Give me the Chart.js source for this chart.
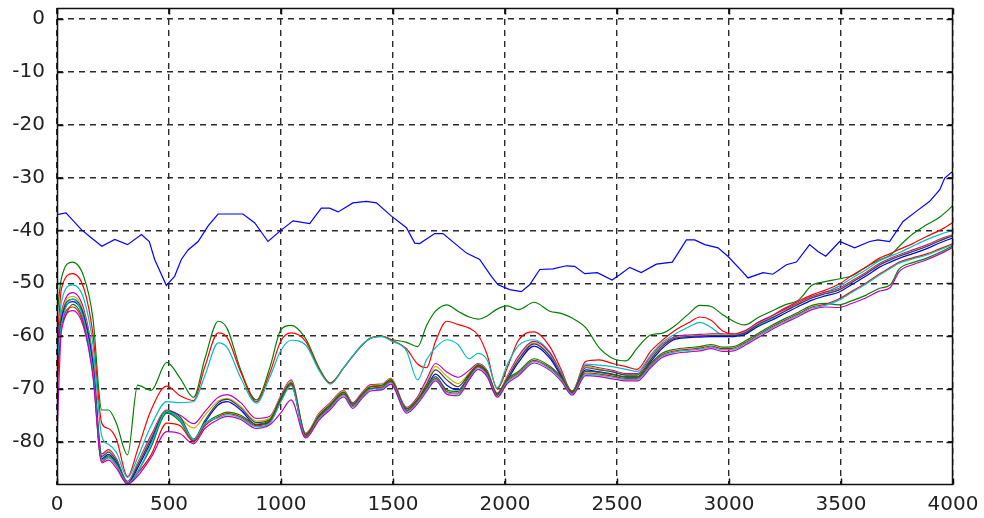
<!DOCTYPE html>
<html>
<head>
<meta charset="utf-8">
<title>Spectra</title>
<script src="https://cdn.jsdelivr.net/npm/chart.js@4.4.1/dist/chart.umd.min.js"></script>
<style>
  html, body { margin: 0; padding: 0; background: #fff; }
</style>
</head>
<body>
<canvas id="specChart" width="984" height="518"></canvas>
<script>
// axis ticks
const xTicks = [0, 500, 1000, 1500, 2000, 2500, 3000, 3500, 4000];
const yTicks = [-80, -70, -60, -50, -40, -30, -20, -10, 0];

// reference trace (own frequency points)
const topFreq = [0, 40, 110, 150, 200, 258, 315, 377, 412, 436,
  488, 525, 555, 585, 630, 674, 719, 830, 883, 942,
  1002, 1054, 1128, 1180, 1217, 1255, 1321, 1381, 1426, 1493,
  1560, 1597, 1619, 1686, 1723, 1828, 1887, 1939, 1969, 2021,
  2073, 2110, 2155, 2214, 2274, 2311, 2356, 2412, 2478, 2512,
  2557, 2608, 2676, 2747, 2810, 2847, 2892, 2951, 2995, 3048,
  3085, 3152, 3196, 3256, 3301, 3360, 3397, 3432, 3494, 3561,
  3628, 3665, 3717, 3777, 3836, 3896, 3941, 3963, 3993, 4000];
const topLevel = [-37.0, -36.7, -39.9, -41.3, -43.0, -41.7, -42.7, -40.8, -42.1, -45.5,
  -50.4, -48.7, -45.5, -43.7, -42.1, -39.2, -36.9, -36.9, -38.6, -42.1,
  -39.9, -38.2, -38.7, -35.8, -35.8, -36.5, -34.8, -34.5, -34.8, -37.3,
  -39.5, -42.4, -42.5, -40.6, -40.6, -44.3, -45.5, -48.7, -50.3, -51.2,
  -51.6, -50.3, -47.4, -47.3, -46.7, -46.8, -48.2, -48.0, -49.4, -48.4,
  -47.0, -48.0, -46.4, -46.0, -41.8, -41.8, -42.7, -43.3, -44.9, -47.3,
  -49.0, -48.0, -48.3, -46.5, -46.0, -42.7, -44.0, -44.9, -42.1, -43.3,
  -42.1, -41.8, -42.1, -38.3, -36.4, -34.5, -32.3, -30.1, -29.0, -29.0];

// shared frequency points for the remaining traces
const freqGrid = [0, 20, 70, 120, 160,
  200, 230, 265, 315, 360,
  420, 490, 550, 610, 660,
  720, 760, 820, 890, 950,
  1000, 1045, 1110, 1170, 1220,
  1280, 1320, 1360, 1400, 1450,
  1490, 1560, 1610, 1650, 1690,
  1740, 1790, 1840, 1880, 1920,
  1965, 2010, 2060, 2130, 2200,
  2250, 2300, 2360, 2420, 2480,
  2540, 2590, 2650, 2700, 2760,
  2820, 2870, 2920, 2970, 3020,
  3070, 3130, 3190, 3250, 3310,
  3370, 3430, 3490, 3550, 3610,
  3670, 3720, 3760, 3820, 3880,
  3940, 4000];

const levelG1 = [-56, -49, -46, -48.8, -56.5,
  -74.0, -74.0, -76.5, -82.5, -69.3,
  -70.3, -65.0, -68.0, -71.6, -64.3,
  -57.2, -58.6, -66.4, -72.1, -66.0,
  -58.8, -58.0, -60.5, -66.0, -68.9,
  -66.0, -63.8, -61.8, -60.4, -60.0,
  -60.6, -61.2, -62.0, -58.0, -55.3,
  -54.1, -55.3, -56.4, -56.8, -56.2,
  -54.9, -54.3, -55.0, -53.6, -55.3,
  -55.7, -56.6, -58.4, -62.2, -64.2,
  -64.7, -62.3, -59.8, -59.5, -58.0,
  -55.8, -54.2, -54.4, -55.9, -57.2,
  -57.9, -56.5, -55.3, -54.1, -53.2,
  -50.4, -49.7, -49.2, -48.6, -47.0,
  -45.6, -44.7, -43.0, -40.7, -39.0,
  -37.5, -35.3];

const levelR1 = [-62, -51, -48.2, -51.0, -59.5,
  -76.5, -77.5, -79.5, -86.6, -81.5,
  -74.0, -69.5, -71.3, -72.2, -65.8,
  -59.4, -60.3, -66.8, -72.4, -67.0,
  -60.9, -59.4, -61.0, -66.3, -68.9,
  -66.0, -63.8, -61.8, -60.4, -60.0,
  -60.7, -62.4, -65.3, -66.0, -61.0,
  -57.2, -57.8, -58.5, -59.8, -63.5,
  -70.0, -66.0, -60.8, -59.2, -62.0,
  -66.3, -70.6, -64.8, -64.5, -65.2,
  -65.8, -66.3, -62.9, -60.9, -58.9,
  -57.5, -56.4, -57.0, -59.0, -59.6,
  -59.0, -57.5, -56.2, -54.7, -53.4,
  -52.2, -51.3, -50.2, -48.5, -47.0,
  -45.3, -44.4, -43.6, -42.5, -41.2,
  -40.0, -38.5];

const levelC1 = [-66, -53.5, -50.3, -53.0, -61.5,
  -79.0, -80.5, -82.0, -86.8, -83.0,
  -77.0, -72.4, -72.6, -72.4, -67.5,
  -61.3, -62.2, -67.9, -72.7, -67.8,
  -62.7, -60.8, -61.7, -66.5, -69.1,
  -66.0, -63.8, -61.8, -60.4, -60.1,
  -60.9, -62.8, -68.3, -64.5, -62.2,
  -60.7, -61.6, -64.3, -63.3, -64.5,
  -69.8, -65.4, -61.8, -60.7, -63.0,
  -66.8, -70.5, -65.3, -65.5, -65.8,
  -66.3, -66.7, -63.6, -61.3, -59.6,
  -58.3, -57.4, -58.4, -59.8, -60.0,
  -59.5, -58.0, -56.7, -55.2, -53.8,
  -52.6, -51.7, -50.6, -49.0, -47.5,
  -45.8, -44.9, -44.2, -43.0, -41.8,
  -40.8, -40.0];

const levelM1 = [-62, -55.5, -51.8, -55.0, -64.0,
  -82.3, -81.5, -83.2, -87.5, -84.0,
  -78.8, -74.0, -75.0, -76.6, -74.3,
  -71.6, -71.1, -72.6, -75.6, -75.2,
  -71.2, -68.3, -78.4, -74.6, -72.6,
  -70.3, -72.6, -70.8, -69.2, -69.1,
  -68.0, -73.5, -71.5, -68.2, -65.2,
  -66.8, -67.8, -66.5, -65.2, -66.5,
  -70.8, -67.6, -63.8, -61.0, -63.2,
  -67.0, -70.4, -65.6, -66.0, -66.5,
  -67.1, -67.1, -64.0, -61.6, -60.1,
  -59.8, -59.7, -59.6, -59.6, -59.7,
  -59.1, -57.4, -56.2, -54.9, -53.7,
  -52.5, -51.7, -51.0, -49.5, -48.0,
  -46.3, -45.3, -44.6, -43.7, -42.8,
  -41.7, -40.8];

const levelY1 = [-67, -56.0, -52.5, -55.6, -64.6,
  -82.6, -81.8, -83.5, -87.7, -84.2,
  -79.2, -74.1, -75.6, -77.4, -75.0,
  -72.3, -71.8, -73.3, -76.1, -75.5,
  -71.4, -68.6, -78.5, -74.8, -72.8,
  -70.4, -72.8, -71.0, -69.4, -69.2,
  -68.1, -73.7, -71.8, -68.8, -65.8,
  -67.6, -69.0, -67.0, -65.4, -66.7,
  -70.9, -67.8, -64.2, -61.3, -63.6,
  -67.2, -70.5, -65.8, -66.2, -66.7,
  -67.3, -67.3, -64.3, -61.8, -60.3,
  -60.0, -59.9, -59.8, -59.8, -59.8,
  -59.3, -57.7, -56.5, -55.2, -53.9,
  -52.7, -51.9, -51.2, -49.7, -48.2,
  -46.5, -45.5, -44.8, -43.9, -43.0,
  -41.9, -40.9];

const levelK1 = [-64, -56.5, -53.0, -56.0, -65.0,
  -82.8, -82.0, -83.6, -87.8, -84.5,
  -79.5, -74.2, -75.3, -79.5, -76.0,
  -72.6, -72.0, -73.6, -76.4, -75.8,
  -71.6, -68.8, -78.6, -75.0, -73.0,
  -70.6, -72.9, -71.1, -69.6, -69.4,
  -68.3, -73.8, -72.0, -69.2, -66.4,
  -68.3, -69.6, -67.2, -65.5, -66.8,
  -71.0, -68.0, -64.5, -61.5, -63.8,
  -67.3, -70.6, -66.0, -66.4, -66.8,
  -67.4, -67.4, -64.5, -62.0, -60.4,
  -60.1, -60.0, -59.9, -59.9, -59.9,
  -59.4, -57.8, -56.6, -55.3, -54.0,
  -52.8, -52.0, -51.3, -49.8, -48.3,
  -46.6, -45.6, -44.9, -44.0, -43.1,
  -42.0, -41.0];

const levelB2 = [-68, -57.0, -53.5, -56.5, -65.5,
  -83.2, -82.4, -84.0, -88.0, -85.0,
  -80.0, -74.5, -75.8, -79.8, -76.4,
  -73.0, -72.4, -74.0, -76.8, -76.2,
  -72.0, -69.2, -79.0, -75.4, -73.4,
  -71.0, -73.3, -71.5, -70.0, -69.8,
  -68.7, -74.2, -72.4, -69.7, -67.2,
  -69.3, -70.2, -67.6, -65.8, -67.2,
  -71.3, -68.4, -65.0, -61.9, -64.2,
  -67.6, -70.8, -66.4, -66.8, -67.2,
  -67.8, -67.8, -64.9, -62.4, -60.6,
  -60.3, -60.2, -60.1, -60.1, -60.1,
  -59.7, -58.2, -57.0, -55.7, -54.4,
  -53.2, -52.4, -51.7, -50.2, -48.7,
  -47.0, -46.0, -45.3, -44.4, -43.5,
  -42.4, -41.4];

const levelG2 = [-58, -57.5, -54.0, -57.5, -66.5,
  -83.5, -82.7, -84.2, -88.0, -85.7,
  -81.0, -74.6, -76.2, -79.8, -76.7,
  -75.0, -74.4, -75.0, -76.7, -76.0,
  -71.9, -68.9, -78.7, -75.1, -73.1,
  -70.7, -72.9, -71.1, -69.6, -69.4,
  -68.3, -73.8, -72.0, -69.7, -67.7,
  -70.2, -70.5, -67.5, -65.5, -66.9,
  -70.9, -68.2, -66.7, -64.3, -65.7,
  -67.7, -70.5, -66.7, -66.9, -67.3,
  -67.7, -67.7, -65.2, -63.3, -62.5,
  -62.2, -62.0, -61.6, -62.1, -62.0,
  -61.0, -59.5, -58.0, -56.7, -55.5,
  -54.2, -53.8, -54.1, -53.3, -52.3,
  -51.0, -50.3, -47.3, -46.1, -45.3,
  -44.2, -42.9];

const levelR2 = [-70, -58.0, -54.5, -58.0, -67.0,
  -83.8, -83.0, -84.5, -88.0, -86.0,
  -82.5, -76.5, -77.0, -80.0, -77.0,
  -75.3, -74.7, -75.3, -77.0, -76.3,
  -72.2, -69.2, -79.0, -75.4, -73.4,
  -71.0, -73.2, -71.4, -69.9, -69.7,
  -68.6, -74.1, -72.3, -70.0, -68.0,
  -70.5, -70.8, -67.8, -65.8, -67.2,
  -71.2, -68.5, -67.0, -64.6, -66.0,
  -68.0, -70.8, -67.0, -67.2, -67.6,
  -68.0, -68.0, -65.5, -63.6, -62.8,
  -62.5, -62.3, -61.9, -62.4, -62.3,
  -61.3, -59.8, -58.3, -57.0, -55.8,
  -54.5, -54.0, -53.0, -51.5, -50.0,
  -48.3, -47.0, -46.0, -45.2, -44.5,
  -43.5, -42.5];

const levelC2 = [-65, -57.8, -53.0, -57.0, -66.5,
  -83.5, -83.0, -84.4, -87.9, -85.8,
  -80.5, -74.3, -75.8, -79.6, -76.5,
  -75.5, -74.9, -75.5, -77.2, -76.5,
  -72.4, -69.4, -79.2, -75.6, -73.6,
  -71.2, -73.4, -71.6, -70.1, -69.9,
  -68.8, -74.3, -72.5, -70.2, -68.2,
  -70.7, -71.0, -68.0, -66.0, -67.4,
  -71.4, -68.7, -67.2, -64.8, -66.2,
  -68.2, -71.0, -67.2, -67.4, -67.8,
  -68.2, -68.2, -65.7, -63.8, -63.0,
  -62.7, -62.5, -62.1, -62.6, -62.5,
  -61.5, -60.0, -58.5, -57.2, -56.0,
  -54.7, -54.2, -53.2, -51.7, -50.2,
  -48.5, -47.2, -46.2, -45.4, -44.7,
  -43.7, -42.7];

const levelM2 = [-79, -59.0, -55.2, -58.5, -67.5,
  -84.0, -83.5, -85.0, -88.0, -86.5,
  -83.0, -78.1, -78.5, -80.4, -77.5,
  -75.8, -75.2, -75.8, -77.5, -76.8,
  -74.5, -72.1, -79.3, -75.9, -73.9,
  -71.5, -73.7, -71.9, -70.4, -70.2,
  -69.1, -74.6, -72.8, -70.5, -68.5,
  -71.0, -71.3, -68.3, -66.3, -67.7,
  -71.6, -69.0, -67.5, -65.1, -66.5,
  -68.5, -71.2, -67.5, -67.7, -68.1,
  -68.5, -68.5, -66.0, -64.1, -63.3,
  -63.0, -62.8, -62.4, -62.9, -62.8,
  -61.8, -60.3, -58.8, -57.5, -56.3,
  -55.0, -54.5, -54.6, -53.8, -52.8,
  -51.5, -50.8, -47.8, -46.5, -45.6,
  -44.5, -43.2];

// classic plot colour order: b g r c m y k ...
const gridTraces = [
  { level: levelG1, color: '#008000' },
  { level: levelR1, color: '#ff0000' },
  { level: levelC1, color: '#00bfbf' },
  { level: levelM1, color: '#bf00bf' },
  { level: levelY1, color: '#bfbf00' },
  { level: levelK1, color: '#404040' },
  { level: levelB2, color: '#0000ff' },
  { level: levelG2, color: '#008000' },
  { level: levelR2, color: '#ff0000' },
  { level: levelC2, color: '#00bfbf' },
  { level: levelM2, color: '#bf00bf' }
];

const datasets = [{
  data: topFreq.map((f, i) => ({ x: f, y: topLevel[i] })),
  borderColor: '#0000ff',
  borderWidth: 1.2,
  pointRadius: 0,
  tension: 0,
  order: gridTraces.length + 1
}];

gridTraces.forEach((t, k) => {
  datasets.push({
    data: freqGrid.map((f, i) => ({ x: f, y: t.level[i] })),
    borderColor: t.color,
    borderWidth: 1.2,
    pointRadius: 0,
    cubicInterpolationMode: 'monotone',
    order: gridTraces.length - k
  });
});

// box around the plot with small inward tick marks
const axesFrame = {
  id: 'axesFrame',
  afterDraw(chart) {
    const { ctx, chartArea: a, scales } = chart;
    const L = Math.round(a.left) + 0.5, R = Math.round(a.right) - 0.5;
    const T = Math.round(a.top) + 0.5, B = Math.round(a.bottom) - 0.5;
    ctx.save();
    ctx.strokeStyle = '#111';
    ctx.lineWidth = 1.5;
    ctx.setLineDash([]);
    ctx.beginPath();
    xTicks.forEach(v => {
      const px = Math.round(scales.x.getPixelForValue(v)) + 0.5;
      ctx.moveTo(px, B); ctx.lineTo(px, B - 6);
      ctx.moveTo(px, T); ctx.lineTo(px, T + 6);
    });
    yTicks.forEach(v => {
      const py = Math.round(scales.y.getPixelForValue(v)) + 0.5;
      ctx.moveTo(L, py); ctx.lineTo(L + 6, py);
      ctx.moveTo(R, py); ctx.lineTo(R - 6, py);
    });
    ctx.stroke();
    ctx.strokeRect(L, T, R - L, B - T);
    ctx.restore();
  }
};

const tickFont = { family: '"DejaVu Sans", sans-serif', size: 20 };

new Chart(document.getElementById('specChart'), {
  type: 'line',
  data: { datasets },
  options: {
    responsive: false,
    animation: false,
    events: [],
    layout: { padding: { left: 0, right: 31, top: 8, bottom: 0 } },
    plugins: { legend: { display: false }, tooltip: { enabled: false } },
    scales: {
      x: {
        type: 'linear',
        min: 0,
        max: 4000,
        afterBuildTicks: s => { s.ticks = xTicks.map(v => ({ value: v })); },
        afterFit: s => { s.height = 33; s.paddingLeft = 0; s.paddingRight = 0; },
        ticks: { font: tickFont, color: '#222', padding: 8, maxRotation: 0, autoSkip: false,
          callback: v => String(v) },
        grid: { color: '#2a2a2a', lineWidth: 1.4, drawTicks: false },
        border: { display: false, dash: [6, 5] }
      },
      y: {
        type: 'linear',
        min: -88.2,
        max: 2.1,
        afterBuildTicks: s => { s.ticks = yTicks.map(v => ({ value: v })); },
        afterFit: s => { s.width = 57; s.paddingTop = 0; s.paddingBottom = 0; },
        ticks: { font: tickFont, color: '#222', padding: 12, autoSkip: false,
          callback: v => String(v) },
        grid: { color: '#2a2a2a', lineWidth: 1.4, drawTicks: false },
        border: { display: false, dash: [6, 5] }
      }
    }
  },
  plugins: [axesFrame]
});
</script>
</body>
</html>
